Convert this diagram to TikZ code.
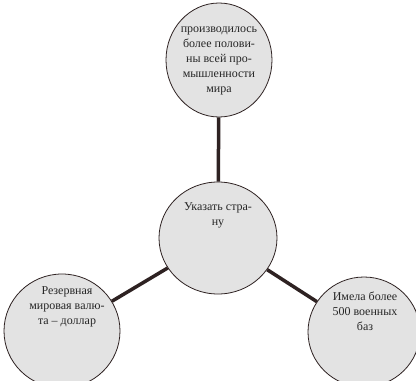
\documentclass[tikz,border=0pt]{standalone}
\usepackage{fontspec}
\setmainfont{Liberation Serif}
\usetikzlibrary{shapes.geometric}
\definecolor{fond}{HTML}{E3E3E3}
\definecolor{trait}{HTML}{2E2222}
\begin{document}
\begin{tikzpicture}[x=1pt,y=-1pt,
    bulle/.style={ellipse,draw=trait,line width=0.8pt,fill=fond,inner sep=0pt},
    texte/.style={align=center,text=black!85,font=\fontsize{12}{15}\selectfont},
    lien/.style={draw=trait,line width=3.5pt}]
    \clip (0,0) rectangle (416,381);
    \fill[white] (0,0) rectangle (416,381);
    % les cercles
    \node[bulle,minimum width=106pt,minimum height=114pt] (haut) at (219,60) {};
    \node[bulle,minimum width=118pt,minimum height=112pt] (pays) at (218,238) {};
    \node[bulle,minimum width=116pt,minimum height=114pt] (gauche) at (62,331) {};
    \node[bulle,minimum width=112pt,minimum height=110pt] (droite) at (364,332) {};
    % les liens
    \draw[lien] (haut) -- (pays);
    \draw[lien] (pays) -- (gauche);
    \draw[lien] (pays) -- (droite);
    % les textes
    \node[texte] (t1) at (219,61) {производилось\\более полови-\\ны всей про-\\мышленности\\мира};
    \node[texte] (t2) at (218,215) {Указать стра-\\ну};
    \node[texte] (t3) at (67,307) {Резервная\\мировая валю-\\та – доллар};
    \node[texte] (t4) at (365,311) {Имела более\\500 военных\\баз};
\end{tikzpicture}
\end{document}
